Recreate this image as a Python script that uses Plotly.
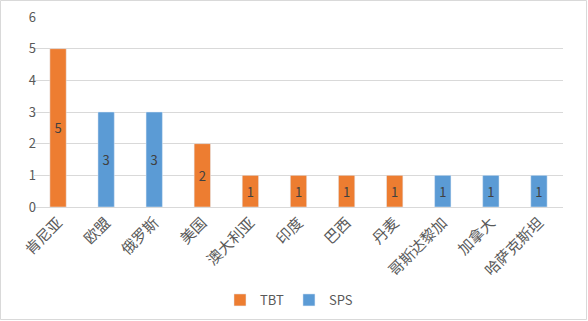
import plotly.graph_objects as go

categories = ["肯尼亚", "欧盟", "俄罗斯", "美国", "澳大利亚", "印度", "巴西", "丹麦", "哥斯达黎加", "加拿大", "哈萨克斯坦"]
tbt = [5, None, None, 2, 1, 1, 1, 1, None, None, None]
sps = [None, 3, 3, None, None, None, None, None, 1, 1, 1]
y_ticks = [0, 1, 2, 3, 4, 5, 6]

W, H = 588, 321
L, R, T, B = 34, 25, 17, 114
pw, ph = W - L - R, H - T - B

fig = go.Figure()
for name, vals, col in [("TBT", tbt, "#ED7D31"), ("SPS", sps, "#5B9BD5")]:
    fig.add_trace(go.Bar(
        x=categories, y=vals, name=name, marker_color=col, width=0.34,
        text=[v if v is not None else "" for v in vals],
        textposition="inside", insidetextanchor="middle", textangle=0,
        textfont=dict(color="#404040", size=13, family="Noto Sans CJK SC"),
    ))

fig.update_layout(
    width=W, height=H, margin=dict(l=L, r=R, t=T, b=B, autoexpand=False),
    paper_bgcolor="white", plot_bgcolor="white",
    barmode="overlay", showlegend=True,
    font=dict(family="Noto Sans CJK SC", color="#595959", size=12),
    legend=dict(orientation="h", x=0.482, xanchor="center", y=-(300 - 207) / ph, yanchor="middle",
                font=dict(size=13, color="#595959"), itemwidth=30, traceorder="normal"),
    xaxis=dict(tickangle=-45, showgrid=False, showline=True, linecolor="#d9d9d9", linewidth=1,
               tickfont=dict(size=15, color="#595959"), ticks="", automargin=False),
    yaxis=dict(range=[0, 6], tickvals=y_ticks, showgrid=True, gridcolor="#d9d9d9", gridwidth=1,
               zeroline=False, tickfont=dict(size=13, color="#595959"), ticks="", automargin=False,
               ticklabelstandoff=-3),
    shapes=[dict(type="rect", xref="paper", yref="paper",
                 x0=(0.5 - L) / pw, x1=(W - 1.5 - L) / pw,
                 y0=-(H - 1.5 - (T + ph)) / ph, y1=(T + ph - 0.5) / ph,
                 line=dict(color="#d9d9d9", width=1), layer="above")],
)
fig.write_html("out.html")
